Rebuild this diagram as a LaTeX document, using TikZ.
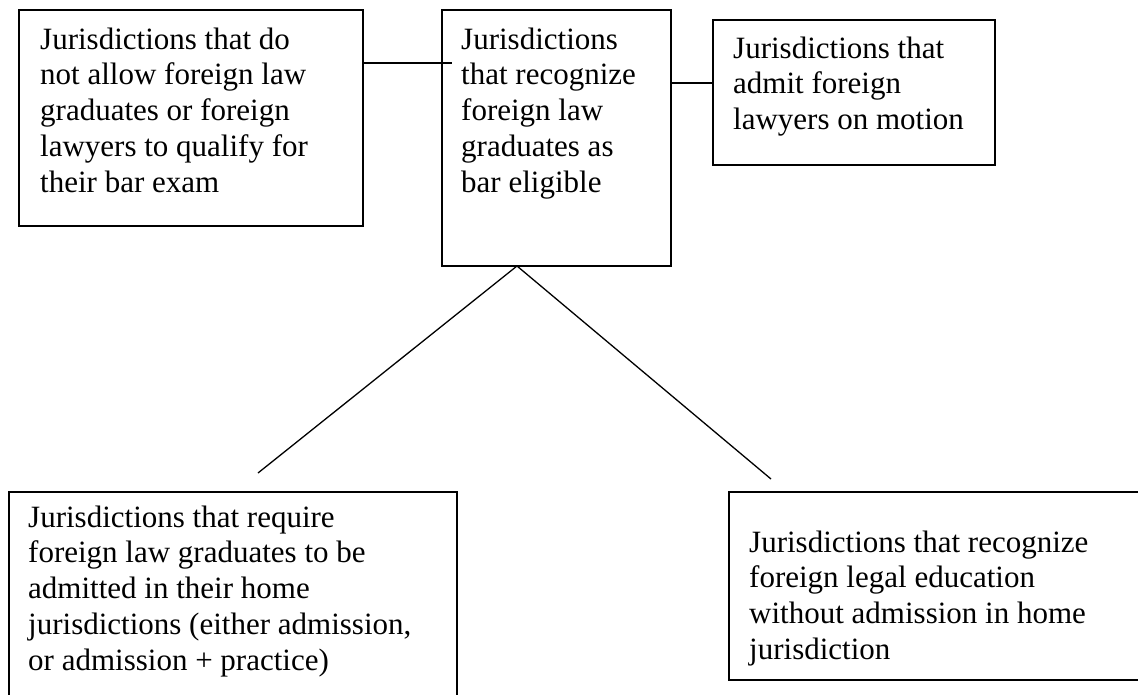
\documentclass[tikz,border=0pt]{standalone}
\usepackage{fontspec}
\setmainfont{Liberation Serif}
\tikzset{
  box/.style={draw=black, line width=1.6pt, inner sep=0pt, anchor=north west},
  txt/.style={anchor=base west, inner sep=0pt, font=\fontsize{31}{35.8}\selectfont},
  conn/.style={draw=black, line width=1.3pt}
}
\begin{document}
\begin{tikzpicture}[x=1pt,y=-1pt]
\useasboundingbox (0,0) rectangle (1138,694);
\clip (0,0) rectangle (1138,694);
% boxes
\node[box, minimum width=344pt, minimum height=216pt] (b1) at (18,9) {};
\node[box, minimum width=229pt, minimum height=256pt] (b2) at (441,9) {};
\node[box, minimum width=282pt, minimum height=145pt] (b3) at (712,19) {};
\node[box, minimum width=448pt, minimum height=240pt] (b4) at (8,491) {};
\node[box, minimum width=440pt, minimum height=188pt] (b5) at (728,491) {};
% texts
\node[txt] (t1) at (40,49) {\begin{tabular}[t]{@{}l@{}}Jurisdictions that do\\not allow foreign law\\graduates or foreign\\lawyers to qualify for\\their bar exam\end{tabular}};
\node[txt] (t2) at (461,49) {\begin{tabular}[t]{@{}l@{}}Jurisdictions\\that recognize\\foreign law\\graduates as\\bar eligible\end{tabular}};
\node[txt] (t3) at (733,58) {\begin{tabular}[t]{@{}l@{}}Jurisdictions that\\admit foreign\\lawyers on motion\end{tabular}};
\node[txt] (t4) at (28,527) {\begin{tabular}[t]{@{}l@{}}Jurisdictions that require\\foreign law graduates to be\\admitted in their home\\jurisdictions (either admission,\\or admission + practice)\end{tabular}};
\node[txt] (t5) at (749,552) {\begin{tabular}[t]{@{}l@{}}Jurisdictions that recognize\\foreign legal education\\without admission in home\\jurisdiction\end{tabular}};
% connectors
\coordinate (apex) at (517,266);
\coordinate (e1) at (258,473);
\coordinate (e2) at (771,479);
\draw[conn] (b1.east |- 0,63) -- ([xshift=11pt]b2.west |- 0,63);
\draw[conn] (b2.east |- 0,83) -- (b3.west |- 0,83);
\draw[conn] (e1) -- (apex) -- (e2);
\end{tikzpicture}
\end{document}
